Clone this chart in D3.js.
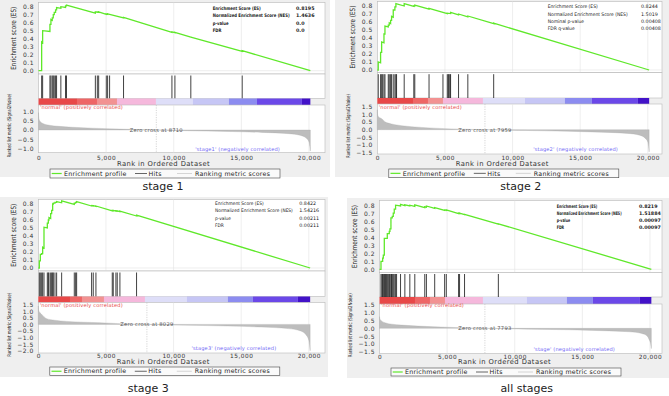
<!DOCTYPE html>
<html>
<head>
<meta charset="utf-8">
<script src="https://cdn.jsdelivr.net/npm/d3@7"></script>
<style>
  body { margin: 0; background: #fff; }
  text { font-family: "DejaVu Sans", sans-serif; }
</style>
</head>
<body>
<svg id="chart" width="669" height="396"></svg>
<script>
// ---- data ----
const N = 20100;
const rankTicks = [0, 5000, 10000, 15000, 20000];
const esTicks = [0, 0.1, 0.2, 0.3, 0.4, 0.5, 0.6, 0.7, 0.8];
const legendItems = ["Enrichment profile", "Hits", "Ranking metric scores"];
const captions = ["stage 1", "stage 2", "stage 3", "all stages"];
const groupLabels = ["'stage1'", "'stage2'", "'stage3'", "'stage'"];
const zeroCross = [8710, 7959, 8029, 7793];

const statNamesA = ["Enrichment Score (ES)", "Normalized Enrichment Score (NES)", "p-value", "FDR"];
const statNamesB = ["Enrichment Score (ES)", "Normalized Enrichment Score (NES)", "Nominal p-value", "FDR q-value"];
const s1Stats = ["0.8195", "1.4636", "0.0", "0.0"];
const s2Stats = ["0.8244", "1.5019", "0.00408", "0.00408"];
const s3Stats = ["0.8422", "1.54216", "0.00211", "0.00211"];
const s4Stats = ["0.8219", "1.51884", "0.00097", "0.00097"];

const s1Hits = [233, 306, 846, 919, 1017, 1091, 1164, 1262, 1336, 1654, 1998, 2071, 4203, 4350, 4448,
  5012, 5110, 5257, 6287, 9865, 10086, 11262, 15061];
const s2Hits = [71, 243, 321, 395, 493, 566, 811, 885, 983, 1056, 1179, 1301, 1375, 1424, 1988, 2699,
  2772, 3826, 4855, 5174, 5248, 5297, 5370, 5419, 6007, 6694, 8605];
const s3Hits = [76, 150, 248, 322, 421, 667, 741, 790, 913, 987, 1061, 1110, 1233, 1356, 1726, 2661,
  2760, 2834, 3941, 4064, 4261, 5468, 5542, 5739, 5837, 6034, 7265];
const s4Hits = [110, 184, 233, 282, 355, 404, 453, 527, 576, 650, 723, 772, 846, 895, 944, 1017, 1091,
  1189, 1262, 1556, 1875, 2243, 2610, 3346, 3468, 4081, 4816, 4939, 5846, 5919, 6287, 8787];

const s1Es = [[0,0],[233,0],[233,0.36],[306,0.35],[306,0.50],[846,0.49],[846,0.58],[919,0.58],[919,0.64],
  [1017,0.63],[1017,0.66],[1091,0.66],[1091,0.70],[1164,0.70],[1164,0.73],[1262,0.73],[1262,0.76],
  [1336,0.76],[1336,0.79],[1654,0.78],[1654,0.80],[1998,0.79],[1998,0.81],[2071,0.81],[2071,0.82],
  [4203,0.72],[4203,0.735],[4350,0.73],[4350,0.735],[4448,0.73],[4448,0.735],[5012,0.705],[5012,0.71],
  [5110,0.705],[5110,0.71],[5257,0.705],[6287,0.66],[6287,0.665],[9865,0.48],[9865,0.485],
  [10086,0.475],[10086,0.48],[11262,0.42],[15061,0.24],[15061,0.25],[20100,0]];
const s2Es = [[0,0],[71,0],[71,0.10],[243,0.09],[243,0.22],[321,0.22],[321,0.35],[493,0.34],[493,0.45],
  [566,0.45],[566,0.55],[811,0.54],[811,0.56],[885,0.56],[885,0.59],[983,0.58],[983,0.62],[1056,0.62],
  [1056,0.67],[1179,0.66],[1179,0.75],[1301,0.75],[1301,0.79],[1375,0.79],[1375,0.83],[1988,0.80],
  [1988,0.83],[2699,0.795],[2699,0.80],[2772,0.80],[2772,0.81],[3826,0.76],[3826,0.77],[4855,0.72],
  [5174,0.705],[5174,0.71],[5419,0.705],[5419,0.72],[6007,0.69],[6007,0.70],[6694,0.665],[6694,0.675],
  [8605,0.58],[8605,0.585],[20100,0]];
const s3Es = [[0,0],[76,0],[76,0.09],[150,0.09],[150,0.17],[248,0.17],[248,0.18],[322,0.18],[322,0.26],
  [421,0.25],[421,0.51],[667,0.50],[667,0.56],[741,0.56],[741,0.60],[790,0.60],[790,0.63],[913,0.62],
  [913,0.68],[987,0.68],[987,0.72],[1061,0.72],[1061,0.80],[1110,0.80],[1110,0.81],[1233,0.81],
  [1233,0.82],[1356,0.82],[1356,0.83],[1726,0.815],[1726,0.84],[2661,0.795],[2661,0.81],[2760,0.81],
  [2760,0.82],[2834,0.82],[2834,0.83],[3941,0.775],[3941,0.78],[4064,0.775],[4064,0.78],[4261,0.77],
  [4261,0.775],[5468,0.715],[5468,0.72],[5542,0.715],[5542,0.72],[5739,0.71],[5739,0.715],[5837,0.71],
  [5837,0.715],[6034,0.705],[6034,0.71],[7265,0.65],[7265,0.66],[20100,0]];
const s4Es = [[0,0],[110,0],[110,0.10],[233,0.10],[233,0.14],[282,0.14],[282,0.18],[355,0.18],[355,0.39],
  [576,0.39],[576,0.45],[723,0.45],[723,0.48],[772,0.48],[772,0.51],[846,0.51],[846,0.65],[944,0.65],
  [944,0.67],[1017,0.67],[1017,0.71],[1091,0.71],[1091,0.76],[1189,0.76],[1189,0.81],[1556,0.80],
  [1556,0.82],[1875,0.805],[1875,0.815],[2243,0.80],[2243,0.81],[2610,0.795],[2610,0.815],[3346,0.78],
  [3346,0.79],[3468,0.785],[3468,0.80],[4081,0.77],[4081,0.78],[4816,0.745],[4816,0.75],[4939,0.745],
  [4939,0.75],[5846,0.705],[5846,0.71],[5919,0.705],[5919,0.71],[6287,0.69],[6287,0.695],[8787,0.57],
  [8787,0.575],[20100,0]];

const s1Metric = [[0,0.95],[20,0.7],[60,0.55],[150,0.45],[400,0.33],[800,0.26],[1500,0.2],[2500,0.15],
  [4000,0.1],[6000,0.05],[8710,0],[11000,-0.04],[14000,-0.08],[16500,-0.13],[18500,-0.2],[19400,-0.3],
  [19800,-0.45],[20000,-0.65],[20060,-0.9],[20100,-1.15]];
const s2Metric = [[0,1.3],[20,1.0],[80,0.85],[321,0.72],[600,0.5],[811,0.43],[1300,0.33],[1800,0.26],
  [3263,0.15],[5000,0.07],[7959,0],[11000,-0.05],[14000,-0.1],[16500,-0.16],[18500,-0.24],[19400,-0.36],
  [19800,-0.55],[20000,-0.8],[20060,-1.1],[20100,-1.45]];
const s3Metric = [[0,1.4],[20,1.1],[80,0.95],[200,0.82],[620,0.44],[1200,0.32],[2100,0.23],[4560,0.13],
  [6000,0.06],[8029,0],[11000,-0.06],[14000,-0.12],[16500,-0.2],[18500,-0.32],[19400,-0.5],[19800,-0.8],
  [20000,-1.2],[20060,-1.6],[20100,-2.0]];
const s4Metric = [[0,0.75],[30,0.6],[150,0.48],[404,0.36],[900,0.27],[1630,0.21],[4081,0.1],[6000,0.04],
  [7793,0],[11000,-0.05],[14000,-0.09],[16500,-0.15],[18500,-0.22],[19400,-0.33],[19800,-0.5],
  [19950,-0.75],[20050,-1.0],[20100,-1.3]];

// colour bar: segment start ranks and colours
const s1Bar = [0, 2845, 4324, 5802, 8684, 11419, 14079, 16150, 19475];
const s2Bar = [0, 2639, 3747, 4856, 7812, 10917, 13873, 15868, 19268];
const s3Bar = [0, 2343, 3230, 4856, 7886, 10990, 14021, 15868, 19194];
const s4Bar = [0, 2624, 3732, 4841, 7650, 10902, 13858, 15780, 19254];
const barColors = ["#e84848", "#ee6666", "#f29292", "#f5b8dc", "#dedef8", "#c6c6f5", "#8c8cf0", "#6b48e8", "#4212c8"];

const s1Range = [-1, -0.5, 0, 0.5, 1];
const s2Range = [-1.5, -1, -0.5, 0, 0.5, 1, 1.5];
const s3Range = [-2, -1.5, -1, -0.5, 0, 0.5, 1, 1.5];
const s4Range = [-1.5, -1, -0.5, 0, 0.5, 1, 1.5];

// ---- layout of the four panels ----
const layouts = [
  {bg: [0, 0, 330, 177], left: 38.5, right: 325, esTop: 2.5, esBottom: 74, es0: 70.7, es8: 6.7,
   hitBottom: 98.5, barBottom: 105, rankBottom: 152.7, rA: [1, 111.7], rB: [-1, 148.3],
   tickY: 157.5, titleY: 164, legTop: 169, legH: 9, capX: 163, capY: 190,
   statX: 212.7, statW: 77, statVX: 296, statY: 8.3, statDy: 7.45, serif: true, grpX: 241.5, grpY: 149.3, normY: 107.3},
  {bg: [335, 0, 334, 177], left: 377.3, right: 662, esTop: 1.5, esBottom: 72.7, es0: 70, es8: 6,
   hitBottom: 98, barBottom: 104, rankBottom: 154, rA: [1.5, 106.7], rB: [-1.5, 152.7],
   tickY: 157.5, titleY: 163.5, legTop: 169, legH: 8.7, capX: 520.8, capY: 189.7,
   statX: 547.7, statW: 80, statVX: 641, statY: 6.7, statDy: 7.2, serif: false, grpX: 240.7, grpY: 149.3, normY: 107},
  {bg: [0, 197, 328, 180], left: 38.3, right: 325, esTop: 199.5, esBottom: 271, es0: 268, es8: 204,
   hitBottom: 296.5, barBottom: 302.5, rankBottom: 353, rA: [1.5, 304.7], rB: [-2, 350.7],
   tickY: 356, titleY: 361.5, legTop: 367, legH: 8.5, capX: 148.3, capY: 392.3,
   statX: 215, statW: 78, statVX: 299.3, statY: 203.3, statDy: 7.45, serif: false, grpX: 238, grpY: 348.3, normY: 305},
  {bg: [347, 198, 322, 180], left: 379.5, right: 662, esTop: 200.5, esBottom: 272.5, es0: 269.3, es8: 206,
   hitBottom: 297, barBottom: 304, rankBottom: 353.5, rA: [1.5, 305], rB: [-1.5, 351.7],
   tickY: 356.5, titleY: 362, legTop: 368, legH: 8, capX: 526.7, capY: 392.3,
   statX: 556.7, statW: 65, statVX: 639, statY: 206.7, statDy: 7, serif: true, grpX: 235.5, grpY: 349.3, normY: 305.7}
];

const panels = [
  {es: s1Es, hits: s1Hits, metric: s1Metric, bar: s1Bar, stats: s1Stats, names: statNamesA, yt: s1Range},
  {es: s2Es, hits: s2Hits, metric: s2Metric, bar: s2Bar, stats: s2Stats, names: statNamesB, yt: s2Range},
  {es: s3Es, hits: s3Hits, metric: s3Metric, bar: s3Bar, stats: s3Stats, names: statNamesA, yt: s3Range},
  {es: s4Es, hits: s4Hits, metric: s4Metric, bar: s4Bar, stats: s4Stats, names: statNamesA, yt: s4Range}
];

const svg = d3.select("#chart");
const green = "#5fe82a";
const grid = "#e2e2e2";

panels.forEach((d, i) => drawPanel(d, layouts[i], i));

// squeeze a text horizontally (along its own baseline) to a given length
function squeeze(t, target) {
  const w = t.node().getComputedTextLength();
  return w > 0 ? target / w : 1;
}

function drawPanel(d, L, i) {
  const g = svg.append("g");

  g.append("rect").attr("x", L.bg[0]).attr("y", L.bg[1]).attr("width", L.bg[2]).attr("height", L.bg[3])
    .attr("fill", "#efefef");

  const x = d3.scaleLinear().domain([0, 20000]).range([L.left, L.left + 270.5]);
  const yEs = d3.scaleLinear().domain([0, 0.8]).range([L.es0, L.es8]);
  const yR = d3.scaleLinear().domain([L.rA[0], L.rB[0]]).range([L.rA[1], L.rB[1]]);
  const W = L.right - L.left;

  // --- enrichment score panel
  g.append("rect").attr("x", L.left).attr("y", L.esTop).attr("width", W).attr("height", L.esBottom - L.esTop)
    .attr("fill", "#fff").attr("stroke", "#b8b8b8").attr("stroke-width", 0.6);
  g.append("g").selectAll("line").data(rankTicks.slice(1)).join("line")
    .attr("x1", x).attr("x2", x).attr("y1", L.esTop).attr("y2", L.esBottom)
    .attr("stroke", grid).attr("stroke-width", 0.6);
  g.append("line").attr("x1", L.left).attr("x2", L.right).attr("y1", yEs(0)).attr("y2", yEs(0))
    .attr("stroke", grid).attr("stroke-width", 0.6);

  g.append("g")
    .attr("transform", `translate(${L.left},0)`)
    .call(d3.axisLeft(yEs).tickValues(esTicks).tickFormat(d3.format(".1f")).tickSize(0).tickPadding(4.5))
    .call(a => a.select(".domain").remove())
    .call(a => a.selectAll("text").attr("font-size", 6).attr("letter-spacing", 0.5)
      .attr("font-family", "DejaVu Sans").attr("fill", "#333"));

  g.append("path").datum(d.es)
    .attr("fill", "none").attr("stroke", green).attr("stroke-width", 1.3)
    .attr("d", d3.line().x(p => x(p[0])).y(p => yEs(p[1])));

  // stats box
  const st = g.append("g")
    .attr("font-family", L.serif ? "Liberation Serif" : "Liberation Sans")
    .attr("font-weight", L.serif ? "bold" : "normal")
    .attr("font-size", 4.8).attr("fill", "#222");
  const names = st.append("g");
  names.selectAll("text").data(d.names).join("text")
    .attr("x", 0).attr("y", (n, k) => L.statY + k * L.statDy).attr("dy", "0.35em").text(n => n);
  const longest = names.selectAll("text").filter((n, k) => k === 1);
  names.attr("transform", `translate(${L.statX},0) scale(${squeeze(longest, L.statW)},1)`);
  st.append("g").selectAll("text").data(d.stats).join("text")
    .attr("x", L.statVX).attr("y", (n, k) => L.statY + k * L.statDy).attr("dy", "0.35em").text(n => n);

  // --- hits
  g.append("rect").attr("x", L.left).attr("y", L.esBottom).attr("width", W).attr("height", L.hitBottom - L.esBottom)
    .attr("fill", "#fff").attr("stroke", "#b8b8b8").attr("stroke-width", 0.6);
  g.append("g").selectAll("line").data(d.hits).join("line")
    .attr("x1", x).attr("x2", x).attr("y1", L.esBottom + 1.5).attr("y2", L.hitBottom)
    .attr("stroke", "#111").attr("stroke-width", 0.8);

  // --- colour bar
  g.append("g").selectAll("rect").data(d.bar).join("rect")
    .attr("x", r => x(r))
    .attr("width", (r, k) => x(k + 1 < d.bar.length ? d.bar[k + 1] : N) - x(r))
    .attr("y", L.hitBottom).attr("height", L.barBottom - L.hitBottom)
    .attr("fill", (r, k) => barColors[k]);

  // --- ranked list metric
  g.append("rect").attr("x", L.left).attr("y", L.barBottom).attr("width", W).attr("height", L.rankBottom - L.barBottom)
    .attr("fill", "#fff").attr("stroke", "#b8b8b8").attr("stroke-width", 0.6);
  g.append("g").selectAll("line").data(rankTicks.slice(1)).join("line")
    .attr("x1", x).attr("x2", x).attr("y1", L.barBottom).attr("y2", L.rankBottom)
    .attr("stroke", grid).attr("stroke-width", 0.6);
  g.append("line")
    .attr("x1", x(zeroCross[i])).attr("x2", x(zeroCross[i])).attr("y1", L.barBottom).attr("y2", L.rankBottom)
    .attr("stroke", "#bbb").attr("stroke-width", 0.6).attr("stroke-dasharray", "1.2,1.2");

  g.append("path").datum(d.metric)
    .attr("fill", "#bdbdbd").attr("stroke", "#a8a8a8").attr("stroke-width", 0.3)
    .attr("d", d3.area().x(p => x(p[0])).y0(yR(0)).y1(p => yR(p[1])).curve(d3.curveMonotoneX));

  g.append("text").attr("x", x(zeroCross[i])).attr("y", yR(0)).attr("dy", "0.35em")
    .attr("text-anchor", "middle").attr("font-size", 5.2).attr("letter-spacing", 0.25).attr("fill", "#555")
    .text("Zero cross at " + zeroCross[i]);

  g.append("text").attr("x", L.left + 1.5).attr("y", L.normY).attr("dy", "0.35em")
    .attr("font-size", 5.1).attr("letter-spacing", 0.15).attr("fill", "#e84848")
    .text("'normal' (positively correlated)");
  g.append("text").attr("x", L.left + L.grpX).attr("y", L.grpY).attr("dy", "0.35em")
    .attr("text-anchor", "end").attr("font-size", 5.1).attr("letter-spacing", 0.15).attr("fill", "#6f66f5")
    .text(groupLabels[i] + " (negatively correlated)");

  g.append("g")
    .attr("transform", `translate(${L.left},0)`)
    .call(d3.axisLeft(yR).tickValues(d.yt).tickFormat(d3.format(".1f")).tickSize(0).tickPadding(4.5))
    .call(a => a.select(".domain").remove())
    .call(a => a.selectAll("text").attr("font-size", 6).attr("letter-spacing", 0.5)
      .attr("font-family", "DejaVu Sans").attr("fill", "#333"));

  g.append("g")
    .attr("transform", `translate(0,${L.tickY})`)
    .call(d3.axisBottom(x).tickValues(rankTicks).tickFormat(d3.format(",")).tickSize(0))
    .call(a => a.select(".domain").remove())
    .call(a => a.selectAll("text").attr("y", 0).attr("dy", "0.35em").attr("font-size", 5.8)
      .attr("letter-spacing", 0.5).attr("font-family", "DejaVu Sans").attr("fill", "#333"));

  g.append("text").attr("x", L.left + 125).attr("y", L.titleY).attr("dy", "0.35em")
    .attr("text-anchor", "middle").attr("font-size", 6.8).attr("letter-spacing", 0.4).attr("fill", "#333")
    .text("Rank in Ordered Dataset");

  // y titles, squeezed along their baseline like the original
  const esT = g.append("text")
    .attr("text-anchor", "middle").attr("dy", "0.35em").attr("font-size", 7.2).attr("fill", "#222")
    .text("Enrichment score (ES)");
  esT.attr("transform", `translate(${L.left - 25},${(L.esTop + L.esBottom) / 2}) rotate(-90) scale(${squeeze(esT, 63)},1)`);
  const rkT = g.append("text")
    .attr("text-anchor", "middle").attr("dy", "0.35em").attr("font-size", 5.2).attr("fill", "#222")
    .text("Ranked list metric (Signal2Noise)");
  rkT.attr("transform", `translate(${L.left - 29},${(L.hitBottom + L.rankBottom) / 2}) rotate(-90) scale(${squeeze(rkT, 64)},1)`);

  // legend
  const lx = L.left + 11.5;
  const lg = g.append("g").attr("transform", `translate(${lx},${L.legTop})`);
  lg.append("rect").attr("width", 230).attr("height", L.legH)
    .attr("fill", "#fafafa").attr("stroke", "#444").attr("stroke-width", 0.6);
  const sw = [[1.7, 11.7, green, 1.2], [85, 97, "#555", 0.9], [127, 142, "#d0d0d0", 0.9]];
  const tx = [14, 98.5, 145];
  lg.selectAll("line").data(sw).join("line")
    .attr("x1", s => s[0]).attr("x2", s => s[1]).attr("y1", L.legH / 2).attr("y2", L.legH / 2)
    .attr("stroke", s => s[2]).attr("stroke-width", s => s[3]);
  lg.selectAll("text").data(legendItems).join("text")
    .attr("x", (t, k) => tx[k]).attr("y", L.legH / 2).attr("dy", "0.35em")
    .attr("font-size", 6.3).attr("letter-spacing", 0.25).attr("fill", "#222").text(t => t);

  // caption
  g.append("text").attr("x", L.capX).attr("y", L.capY)
    .attr("text-anchor", "middle").attr("font-family", "Noto Sans").attr("font-size", 11).attr("fill", "#222")
    .text(captions[i]);
}
</script>
</body>
</html>
